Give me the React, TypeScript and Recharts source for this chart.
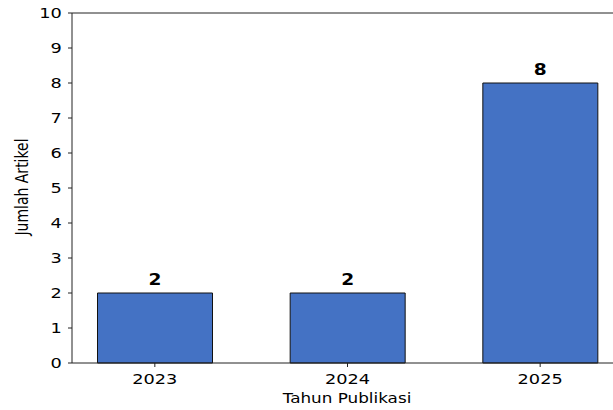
import { BarChart, Bar, XAxis, YAxis, LabelList, ReferenceLine } from 'recharts';

const years = ['2023', '2024', '2025'];
const counts = [2, 2, 8];
const yTicks = [0, 1, 2, 3, 4, 5, 6, 7, 8, 9, 10];

const data = years.map((year, i) => ({ idx: i, year, count: counts[i] }));

const FONT = '"DejaVu Sans", Verdana, sans-serif';
// the reference is stretched a little horizontally, so the text is too
const SX = 1.2;

function XTick({ x, y, payload }: any) {
  return (
    <g transform={`translate(${x},${y}) scale(${SX},1)`}>
      <text x={0} y={15} textAnchor="middle" fontFamily={FONT} fontSize={14.8} fill="#000">
        {years[payload.value]}
      </text>
    </g>
  );
}

function YTick({ x, y, payload }: any) {
  return (
    <g transform={`translate(${x},${y}) scale(${SX},1)`}>
      <text x={-3.5} y={5.3} textAnchor="end" fontFamily={FONT} fontSize={14.8} fill="#000">
        {payload.value}
      </text>
    </g>
  );
}

function BarValue({ x, y, width, value }: any) {
  const cx = x + width / 2;
  return (
    <g transform={`translate(${cx},${y}) scale(${SX},1)`}>
      <text x={0} y={-8.5} textAnchor="middle" fontFamily={FONT} fontSize={15.5} fontWeight="bold" fill="#000">
        {value}
      </text>
    </g>
  );
}

export default function App() {
  return (
    <div style={{ position: 'absolute', left: 0, top: 0, width: 613, height: 410, overflow: 'hidden', background: 'white' }}>
      <BarChart width={660} height={410} data={data} margin={{ top: 13, right: 37, bottom: 0, left: 0 }}>
        <XAxis
          dataKey="idx"
          type="number"
          domain={[-0.43, 2.43]}
          ticks={[0, 1, 2]}
          allowDataOverflow
          height={47}
          tickSize={4}
          stroke="#222"
          tick={<XTick />}
          label={() => (
            <g transform={`translate(347,403) scale(${SX},1)`}>
              <text x={0} y={0} textAnchor="middle" fontFamily={FONT} fontSize={14} fill="#000">
                Tahun Publikasi
              </text>
            </g>
          )}
        />
        <YAxis
          type="number"
          domain={[0, 10]}
          ticks={yTicks}
          interval={0}
          width={72}
          tickSize={4}
          stroke="#222"
          tick={<YTick />}
          label={() => (
            <g transform={`translate(28,187) scale(${SX},1) rotate(-90)`}>
              <text x={0} y={0} textAnchor="middle" fontFamily={FONT} fontSize={14} fill="#000">
                Jumlah Artikel
              </text>
            </g>
          )}
        />
        <ReferenceLine y={10} stroke="#222" strokeWidth={1} />
        <Bar dataKey="count" barSize={115} fill="#4472C4" stroke="#111" strokeWidth={1} isAnimationActive={false}>
          <LabelList dataKey="count" content={<BarValue />} />
        </Bar>
      </BarChart>
    </div>
  );
}
